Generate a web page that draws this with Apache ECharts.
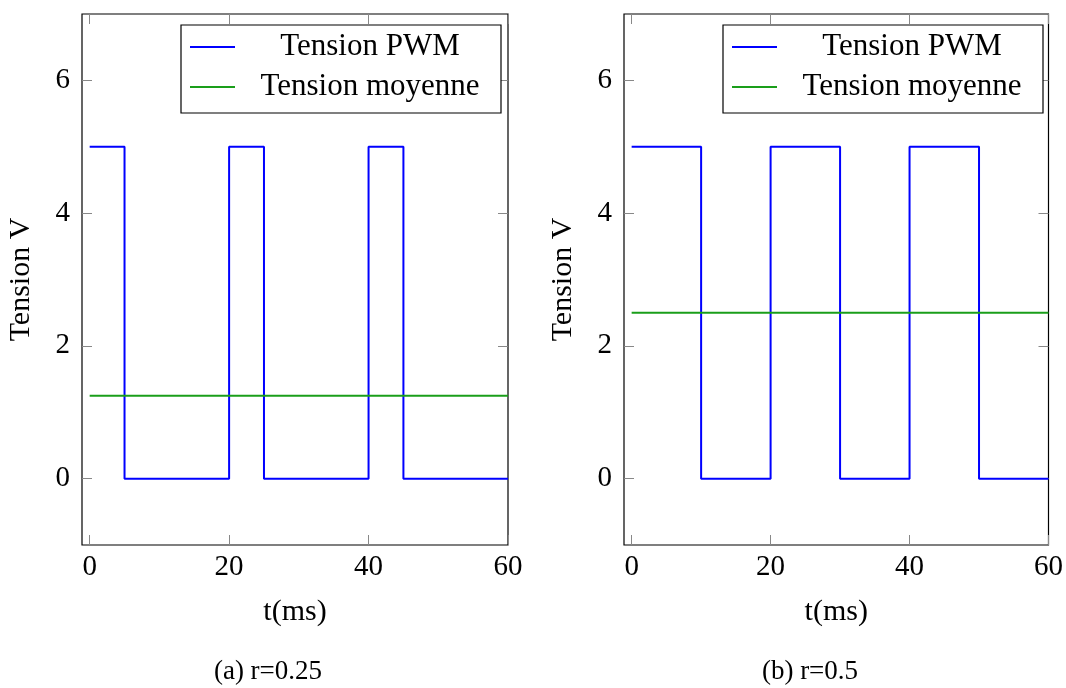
<!DOCTYPE html>
<html><head><meta charset="utf-8">
<script src="https://cdn.jsdelivr.net/npm/echarts@6/dist/echarts.min.js"></script>
<style>html,body{margin:0;padding:0;background:#fff}#c{width:1066px;height:688px}</style>
</head><body><div id="c"></div>
<script>
// Data
const xTicks = [0, 20, 40, 60];
const yTicks = [0, 2, 4, 6];
const pwmA_t = [0, 5, 20, 25, 40, 45, 60];
const pwmA_v = [5, 0, 5, 0, 5, 0, 0];
const meanA_t = [0, 60];
const meanA_v = [1.25, 1.25];
const pwmB_t = [0, 10, 20, 30, 40, 50, 60];
const pwmB_v = [5, 0, 5, 0, 5, 0, 0];
const meanB_t = [0, 60];
const meanB_v = [2.5, 2.5];
const captions = ['(a) r=0.25', '(b) r=0.5'];
const seriesNames = ['Tension PWM', 'Tension moyenne'];

const FONT = 'Liberation Serif';
const zip = (a, b) => a.map((v, i) => [v, b[i]]);
const chart = echarts.init(document.getElementById('c'));

const grids = [
  {left: 82, right: 1066 - 508, top: 14, bottom: 688 - 545},
  {left: 624, right: 1066 - 1050, top: 14, bottom: 688 - 545}
];
const XMIN = -1.1, XMAX = 60, YMIN = -1, YMAX = 7;
const tickStyle = {color: '#888', width: 1};

const xAxes = [], yAxes = [], series = [], graphics = [];
grids.forEach((g, i) => {
  g.show = true; g.borderColor = '#000'; g.borderWidth = 1.2; g.backgroundColor = 'transparent';
  xAxes.push({type: 'value', gridIndex: i, min: XMIN, max: XMAX, position: 'bottom',
    name: 't(ms)', nameLocation: 'middle', nameGap: 52,
    nameTextStyle: {fontFamily: FONT, fontSize: 30, color: '#000'},
    axisLine: {show: false, onZero: false}, splitLine: {show: false},
    axisTick: {show: true, inside: true, length: 10, lineStyle: tickStyle, customValues: xTicks},
    axisLabel: {show: true, fontFamily: FONT, fontSize: 29, color: '#000', margin: 8, customValues: xTicks}
  });
  xAxes.push({type: 'value', gridIndex: i, min: XMIN, max: XMAX, position: 'top',
    axisLine: {show: false, onZero: false}, splitLine: {show: false},
    axisTick: {show: true, inside: true, length: 10, lineStyle: tickStyle, customValues: xTicks},
    axisLabel: {show: false}
  });
  yAxes.push({type: 'value', gridIndex: i, min: YMIN, max: YMAX, position: 'left',
    name: 'Tension V', nameLocation: 'middle', nameGap: 46, nameRotate: 90,
    nameTextStyle: {fontFamily: FONT, fontSize: 30, color: '#000'},
    axisLine: {show: false, onZero: false}, splitLine: {show: false},
    axisTick: {show: true, inside: true, length: 10, lineStyle: tickStyle, customValues: yTicks},
    axisLabel: {show: true, fontFamily: FONT, fontSize: 29, color: '#000', margin: 12, customValues: yTicks}
  });
  yAxes.push({type: 'value', gridIndex: i, min: YMIN, max: YMAX, position: 'right',
    axisLine: {show: false, onZero: false}, splitLine: {show: false},
    axisTick: {show: true, inside: true, length: 10, lineStyle: tickStyle, customValues: yTicks},
    axisLabel: {show: false}
  });
  const pwm = i === 0 ? zip(pwmA_t, pwmA_v) : zip(pwmB_t, pwmB_v);
  const mean = i === 0 ? zip(meanA_t, meanA_v) : zip(meanB_t, meanB_v);
  series.push({name: seriesNames[0], type: 'line', xAxisIndex: 2 * i, yAxisIndex: 2 * i, data: pwm, step: 'end',
    showSymbol: false, symbol: 'none', lineStyle: {color: '#0000ff', width: 2}, itemStyle: {color: '#0000ff'}, z: 3, silent: true});
  series.push({name: seriesNames[1], type: 'line', xAxisIndex: 2 * i, yAxisIndex: 2 * i, data: mean,
    showSymbol: false, symbol: 'none', lineStyle: {color: '#1a9e1a', width: 2}, itemStyle: {color: '#1a9e1a'}, z: 4, silent: true});
});

const legendBoxes = [{l: 181, t: 25, w: 320, h: 88}, {l: 723, t: 25, w: 320, h: 88}];
legendBoxes.forEach((b, i) => {
  graphics.push({type: 'rect', shape: {x: b.l, y: b.t, width: b.w, height: b.h},
    style: {fill: '#fff', stroke: '#000', lineWidth: 1.2}, z: 10});
  [0, 1].forEach(k => {
    const y = b.t + 22 + k * 40;
    graphics.push({type: 'line', shape: {x1: b.l + 9, y1: y, x2: b.l + 54, y2: y},
      style: {stroke: k === 0 ? '#0000ff' : '#1a9e1a', lineWidth: 2}, z: 11});
    graphics.push({type: 'text', x: b.l + 189, y: y, z: 11,
      style: {text: seriesNames[k], font: '31px "' + FONT + '"', fill: '#000', align: 'center', verticalAlign: 'middle'}});
  });
});
graphics.push({type: 'text', x: 268, y: 672, style: {text: captions[0], font: '27px "' + FONT + '"', fill: '#000', align: 'center', verticalAlign: 'middle'}});
graphics.push({type: 'text', x: 810, y: 672, style: {text: captions[1], font: '27px "' + FONT + '"', fill: '#000', align: 'center', verticalAlign: 'middle'}});

chart.setOption({
  animation: false,
  grid: grids,
  xAxis: xAxes,
  yAxis: yAxes,
  series: series,
  graphic: graphics
});
</script></body></html>
